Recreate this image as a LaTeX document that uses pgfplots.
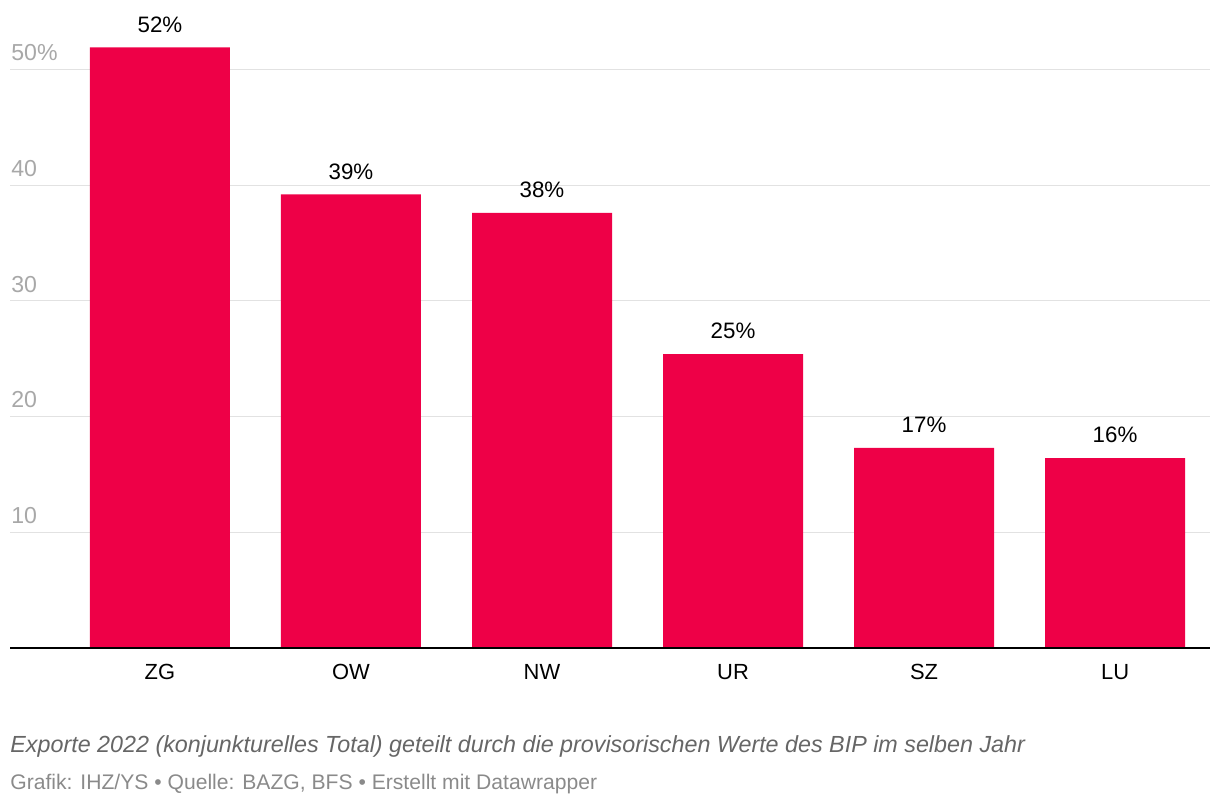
\documentclass[border=0pt]{standalone}
\usepackage{pgfplots}
\pgfplotsset{compat=1.18}
\usepackage{fontspec}
\setmainfont{Liberation Sans}
\definecolor{barred}{HTML}{EE0047}
\definecolor{gridgray}{HTML}{E2E2E2}
\definecolor{ticklab}{HTML}{A8A8A8}
\definecolor{notegray}{HTML}{666666}
\definecolor{srcgray}{HTML}{8A8A8A}
\begin{document}
\begin{tikzpicture}
\path[use as bounding box] (-5bp,-79bp) rectangle (605bp,324bp);
\begin{axis}[
    at={(0,0)}, anchor=south west,
    scale only axis,
    width=600bp, height=324bp,
    xmin=-0.785, xmax=5.497,
    ymin=0, ymax=56,
    axis line style={draw=none},
    xtick={0,1,2,3,4,5},
    xticklabels={ZG,OW,NW,UR,SZ,LU},
    ytick={10,20,30,40,50},
    yticklabels={10,20,30,40,50\%},
    major tick length=0pt,
    ymajorgrids,
    grid style={gridgray, line width=0.6bp},
    tick label style={font=\fontsize{11}{13}\selectfont},
    xticklabel style={anchor=north, yshift=-4.5bp, text=black},
    yticklabel style={anchor=south west, inner sep=0.5bp, xshift=0bp, yshift=3.5bp, text=ticklab, font=\fontsize{11.6}{13}\selectfont},
    /pgf/number format/assume math mode=true,
    clip=false,
]
\addplot[ybar, bar width=70bp, fill=barred, draw=none,
    point meta=explicit symbolic,
    nodes near coords,
    nodes near coords style={anchor=south, yshift=4bp, font=\fontsize{11.2}{13}\selectfont, text=black}]
  coordinates {
    (0,51.9) [52\%]
    (1,39.2) [39\%]
    (2,37.6) [38\%]
    (3,25.4) [25\%]
    (4,17.3) [17\%]
    (5,16.4) [16\%]
  };
\draw[black, line width=1bp] (axis cs:-0.785,0) -- (axis cs:5.497,0);
\end{axis}
\node[anchor=base west, inner sep=0, text=notegray, font=\fontsize{11.7}{13}\selectfont\itshape] at (0,-52bp)
  {Exporte 2022 (konjunkturelles Total) geteilt durch die provisorischen Werte des BIP im selben Jahr};
\node[anchor=base west, inner sep=0, text=srcgray, font=\fontsize{10.6}{12}\selectfont] at (0,-70.5bp)
  {Grafik: IHZ/YS • Quelle: BAZG, BFS • Erstellt mit Datawrapper};
\end{tikzpicture}
\end{document}
